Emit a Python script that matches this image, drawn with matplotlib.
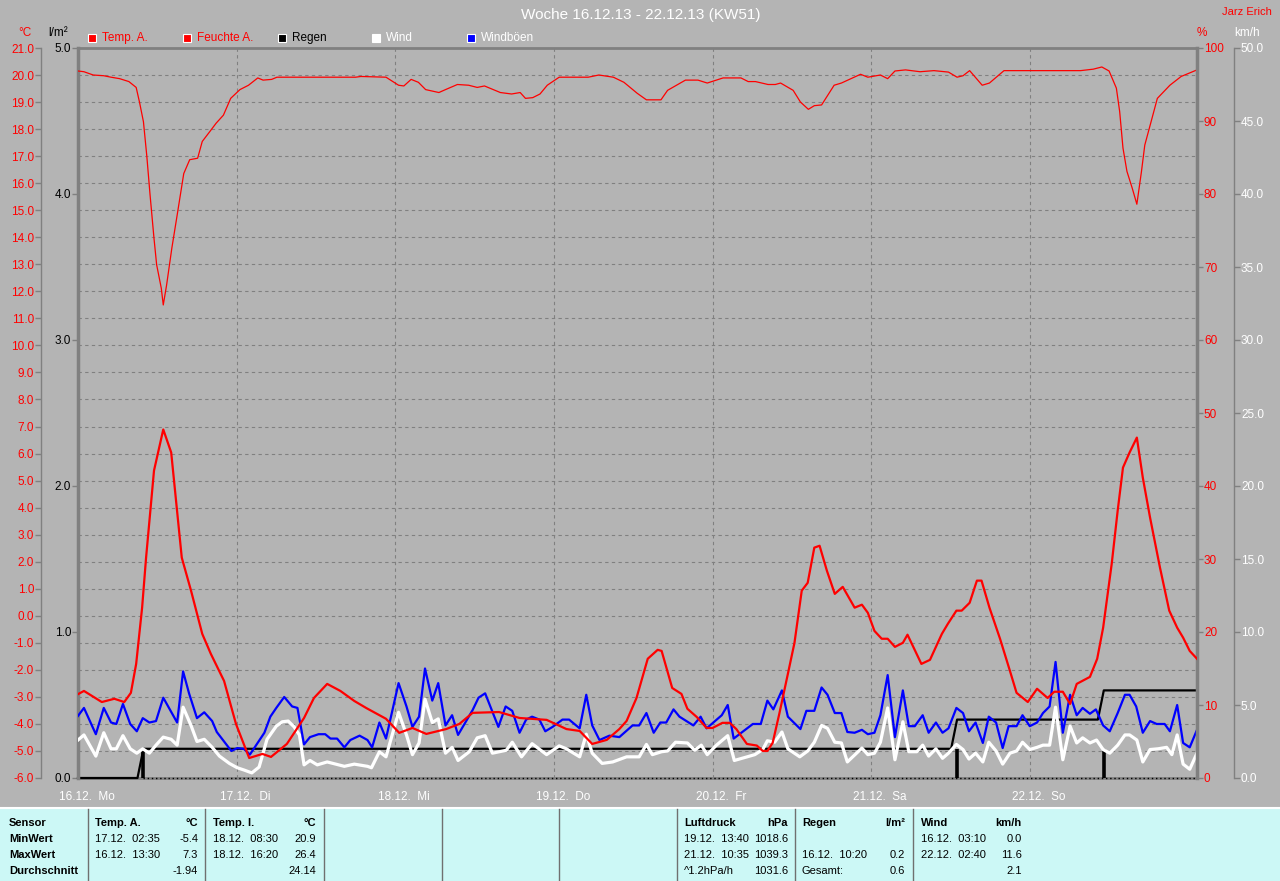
import numpy as np
import matplotlib
matplotlib.use('Agg')
import matplotlib.pyplot as plt
from matplotlib.patches import Rectangle
from matplotlib.transforms import ScaledTranslation

plt.rcParams['font.family'] = ['Liberation Sans', 'DejaVu Sans']

# ---- data (hours since 16.12. 00:00) ----
day_labels = ['16.12.  Mo', '17.12.  Di', '18.12.  Mi', '19.12.  Do', '20.12.  Fr', '21.12.  Sa', '22.12.  So']
day_hours = [0, 24, 48, 72, 96, 120, 144]
x_end = 169.3

temp_h = [0, 0.9, 3.6, 5.5, 7.0, 8.0, 8.8, 9.7, 10.3, 11.5,
          12.9, 14.1, 15.7, 17.1, 18.8, 20.1, 22.1, 23.9, 25.9, 27.9,
          29.2, 31.6, 34.2, 35.7, 37.7, 39.7, 41.8, 43.6, 46.6, 48.6,
          50.6, 52.7, 55.7, 57.7, 59.7, 63.7, 66.8, 70.9, 73.9, 75.9,
          77.8, 80.0, 81.9, 83.0, 84.5, 86.2, 87.7, 88.3, 89.9, 91.3,
          92.2, 93.6, 95.1, 96.0, 97.5, 98.6, 99.6, 101.2, 102.7, 103.6,
          104.3, 105.1, 106.1, 107.4, 108.4, 109.5, 110.4, 111.4, 112.2, 113.3,
          114.5, 115.7, 117.5, 118.6, 119.5, 120.5, 121.6, 122.5, 123.6, 124.8,
          125.5, 127.6, 128.9, 130.7, 131.6, 132.9, 133.7, 134.9, 136.0, 136.7,
          137.9, 139.5, 141.0, 142.0, 143.7, 145.1, 146.7, 147.7, 149.0, 150.1,
          151.1, 153.1, 154.2, 155.1, 156.4, 157.3, 158.1, 159.1, 160.2, 161.1,
          162.2, 163.7, 165.1, 166.3, 167.2, 168.2, 169.3]
temp_c = [-2.9, -2.78, -3.19, -3.07, -3.19, -2.85, -1.78, 0.3, 2.15, 5.37,
          6.89, 6.04, 2.15, 0.93, -0.67, -1.41, -2.41, -4.0, -5.26, -5.11,
          -5.22, -4.74, -3.78, -3.04, -2.52, -2.78, -3.15, -3.41, -3.81, -4.33,
          -4.15, -4.37, -4.19, -4.0, -3.59, -3.56, -3.78, -3.85, -4.19, -4.26,
          -4.74, -4.59, -4.19, -3.89, -3.04, -1.59, -1.26, -1.3, -2.67, -2.89,
          -3.44, -3.74, -4.15, -4.15, -3.96, -3.96, -4.19, -4.74, -4.8, -5.0,
          -5.0, -4.7, -3.63, -2.15, -1.0, 0.93, 1.22, 2.52, 2.59, 1.67,
          0.81, 1.07, 0.30, 0.41, 0.11, -0.56, -0.85, -0.85, -1.15, -1.0,
          -0.70, -1.78, -1.63, -0.67, -0.30, 0.19, 0.19, 0.48, 1.30, 1.30,
          0.30, -0.85, -2.04, -2.85, -3.19, -2.7, -3.04, -2.81, -2.81, -3.26,
          -2.52, -2.26, -1.59, -0.44, 1.93, 3.89, 5.48, 6.04, 6.59, 5.11,
          3.63, 1.78, 0.19, -0.44, -0.81, -1.30, -1.59]

hum_h = [0, 0.9, 2.3, 3.9, 5.0, 6.3, 7.7, 8.8, 9.3, 9.9,
         10.4, 10.9, 11.5, 11.9, 12.6, 12.9, 13.4, 14.2, 15.0, 16.0,
         16.9, 18.1, 18.8, 19.9, 20.9, 22.0, 23.1, 24.5, 25.8, 27.2,
         28.0, 29.3, 30.1, 42.0, 42.8, 46.6, 48.5, 49.3, 50.4, 51.5,
         52.6, 54.6, 55.6, 57.4, 59.1, 60.4, 61.5, 63.9, 65.6, 66.9,
         67.7, 68.8, 69.9, 71.0, 72.8, 77.2, 78.8, 81.0, 82.6, 84.6,
         86.0, 88.2, 89.2, 91.9, 93.8, 95.2, 97.6, 100.3, 101.4, 102.5,
         104.4, 105.5, 106.3, 108.2, 109.3, 110.5, 111.4, 112.5, 114.4, 115.5,
         118.4, 119.5, 121.4, 122.5, 123.6, 125.2, 127.4, 129.5, 131.7, 133.0,
         133.9, 134.9, 136.8, 137.9, 140.1, 151.7, 153.6, 154.9, 156.0, 157.1,
         157.6, 158.1, 158.7, 159.5, 160.2, 160.9, 161.4, 162.5, 163.3, 165.2,
         166.9, 169.3]
hum_pct = [96.85, 96.75, 96.3, 96.2, 96.0, 95.8, 95.4, 94.6, 92.6, 89.9,
           85.3, 79.9, 73.9, 70.3, 67.1, 64.8, 67.5, 72.6, 77.1, 82.8,
           84.7, 84.9, 87.2, 88.5, 89.7, 90.8, 93.1, 94.3, 94.9, 95.9,
           95.6, 95.7, 96.0, 96.0, 96.1, 96.0, 94.9, 94.8, 95.7, 95.3,
           94.3, 93.9, 94.3, 95.0, 94.9, 94.6, 94.8, 93.9, 93.7, 93.9,
           93.1, 93.2, 93.7, 94.9, 96.0, 96.0, 96.3, 96.0, 95.3, 93.8,
           92.9, 92.9, 94.2, 95.6, 95.6, 95.2, 95.9, 95.9, 95.4, 95.4,
           95.0, 95.0, 95.2, 94.2, 92.6, 91.6, 92.1, 92.2, 94.9, 95.2,
           96.4, 96.0, 96.3, 95.8, 96.85, 97.0, 96.75, 96.9, 96.7, 96.0,
           96.2, 96.9, 94.9, 95.2, 96.9, 96.9, 97.1, 97.4, 96.85, 94.5,
           91.3, 86.3, 83.1, 80.8, 78.6, 83.1, 86.7, 90.4, 93.1, 94.9,
           96.1, 97.0]

wind_h = [0, 0.9, 2.7, 3.9, 5.0, 5.8, 6.8, 7.9, 8.9, 9.8,
          10.8, 11.8, 12.9, 14.1, 15.0, 15.9, 17.1, 18.0, 19.1, 20.3,
          21.4, 22.9, 24.1, 25.1, 26.3, 27.4, 28.6, 30.0, 30.9, 31.8,
          32.7, 33.5, 34.2, 35.1, 36.2, 37.7, 40.3, 41.8, 43.8, 44.4,
          45.6, 46.6, 48.5, 49.7, 50.6, 51.6, 52.5, 53.6, 54.5, 55.6,
          56.6, 57.5, 59.2, 60.4, 61.6, 62.7, 64.8, 65.7, 67.1, 68.7,
          70.9, 72.8, 73.9, 75.9, 76.9, 77.8, 79.3, 80.9, 83.0, 84.9,
          86.0, 86.9, 88.3, 89.2, 90.4, 92.2, 93.3, 94.3, 95.2, 96.6,
          98.3, 99.3, 102.4, 103.6, 104.3, 105.4, 106.5, 107.4, 109.2, 110.4,
          111.4, 112.5, 113.4, 114.5, 115.5, 116.4, 118.6, 119.5, 120.5, 121.4,
          122.5, 123.6, 124.8, 125.7, 126.9, 127.8, 128.7, 129.8, 130.8, 131.7,
          132.9, 133.9, 134.8, 135.8, 136.9, 137.8, 138.9, 139.9, 141.0, 142.0,
          142.9, 144.0, 145.1, 146.0, 147.0, 147.9, 149.0, 150.1, 151.1, 152.0,
          153.1, 154.1, 155.1, 156.1, 157.3, 158.4, 159.1, 160.2, 161.1, 162.2,
          163.4, 164.7, 165.5, 166.3, 167.2, 168.2, 169.3]
wind_kmh = [2.6, 2.95, 1.5, 3.1, 2.0, 2.0, 2.9, 2.0, 1.7, 2.0,
            1.7, 2.25, 2.8, 2.65, 2.25, 4.85, 3.6, 2.5, 2.65, 2.1,
            1.5, 1.0, 0.7, 0.55, 0.35, 0.75, 2.65, 3.55, 3.85, 3.9,
            3.5, 2.95, 0.9, 1.2, 0.9, 1.1, 0.8, 0.95, 0.8, 0.7,
            1.8, 1.45, 4.5, 2.95, 1.6, 2.4, 5.4, 3.8, 4.05, 1.7,
            2.1, 1.2, 1.8, 2.75, 2.9, 1.7, 1.9, 2.45, 1.45, 2.35,
            1.6, 2.2, 2.0, 1.45, 3.0, 1.7, 1.0, 1.1, 1.45, 1.45,
            2.3, 1.6, 1.8, 1.85, 2.45, 2.4, 1.9, 2.25, 1.6, 2.25,
            2.9, 1.2, 1.6, 1.95, 2.55, 2.45, 3.15, 2.0, 1.45, 1.85,
            2.45, 3.6, 3.4, 2.45, 2.4, 1.1, 2.05, 1.6, 1.7, 2.45,
            4.8, 1.25, 3.85, 1.8, 1.8, 2.25, 1.5, 2.0, 1.35, 1.7,
            2.3, 1.95, 1.3, 1.7, 1.1, 2.45, 1.85, 0.95, 1.7, 1.85,
            2.45, 1.95, 2.1, 2.25, 2.25, 4.85, 1.25, 3.55, 2.4, 2.75,
            2.4, 2.6, 1.95, 1.7, 2.25, 2.95, 2.95, 2.6, 1.1, 1.95,
            2.0, 2.1, 1.6, 2.95, 0.95, 0.6, 1.7]

gust_h = [0, 0.9, 2.7, 3.9, 5.0, 5.8, 6.8, 7.9, 8.9, 9.8,
          10.8, 11.8, 12.9, 15.0, 15.9, 16.8, 18.0, 19.1, 20.3, 21.0,
          23.2, 24.1, 25.1, 26.0, 28.2, 29.1, 30.0, 31.2, 32.4, 33.2,
          34.2, 35.1, 36.4, 37.4, 38.2, 39.2, 40.3, 41.2, 42.6, 43.8,
          44.5, 45.6, 46.6, 48.5, 49.7, 50.6, 51.6, 52.5, 53.6, 54.5,
          55.6, 56.6, 57.5, 59.7, 60.6, 61.6, 63.6, 64.7, 65.7, 66.8,
          67.8, 68.7, 69.8, 70.7, 71.8, 73.3, 74.3, 75.9, 76.9, 77.8,
          78.9, 80.4, 81.9, 83.9, 84.9, 86.0, 87.1, 88.1, 89.0, 90.1,
          91.0, 93.1, 94.2, 95.1, 97.4, 98.3, 99.2, 102.1, 103.3, 104.3,
          105.2, 106.5, 107.4, 109.3, 110.2, 111.4, 112.5, 113.4, 114.5, 115.5,
          116.4, 117.5, 118.6, 119.5, 120.5, 121.4, 122.5, 123.6, 124.8, 125.7,
          126.6, 127.8, 128.7, 129.8, 130.8, 131.7, 132.9, 133.9, 134.8, 135.8,
          136.9, 137.8, 138.9, 139.9, 140.8, 142.0, 142.9, 144.0, 145.1, 146.0,
          147.0, 147.9, 149.0, 150.1, 151.1, 152.0, 153.1, 154.0, 155.1, 156.1,
          157.3, 158.4, 159.1, 160.1, 161.1, 162.2, 163.2, 164.4, 165.2, 166.3,
          167.2, 168.2, 169.3]
gust_kmh = [4.25, 4.8, 3.0, 4.8, 3.8, 3.7, 5.07, 3.7, 3.2, 4.1,
            3.8, 3.9, 5.5, 3.8, 7.3, 5.8, 4.1, 4.5, 3.9, 3.15,
            1.85, 2.05, 2.0, 1.6, 3.1, 4.2, 4.8, 5.55, 4.9, 4.8,
            2.3, 2.8, 3.0, 3.0, 2.7, 2.7, 2.1, 2.6, 2.9, 2.6,
            2.1, 3.8, 2.7, 6.5, 4.9, 3.5, 4.2, 7.5, 5.3, 6.5,
            3.6, 4.3, 2.95, 4.65, 5.5, 5.8, 3.5, 4.9, 4.6, 3.1,
            4.0, 4.2, 4.0, 3.2, 3.5, 4.0, 4.0, 3.4, 5.7, 3.6,
            2.6, 2.9, 2.8, 3.6, 3.6, 4.45, 3.1, 3.8, 3.8, 4.7,
            4.2, 3.6, 4.2, 3.4, 4.3, 5.0, 2.7, 3.7, 3.7, 5.3,
            4.7, 6.0, 4.2, 3.35, 4.6, 4.6, 6.2, 5.7, 4.45, 4.45,
            3.15, 3.1, 3.3, 3.0, 3.1, 4.3, 7.05, 2.8, 6.0, 3.55,
            3.55, 4.3, 3.1, 3.8, 3.1, 3.4, 4.8, 4.45, 3.2, 3.8,
            2.4, 4.2, 3.8, 2.05, 3.55, 3.55, 4.3, 3.55, 3.8, 4.45,
            4.9, 7.95, 3.1, 5.7, 4.3, 4.8, 4.4, 4.7, 3.6, 3.2,
            4.45, 5.7, 5.7, 4.9, 3.1, 3.9, 3.7, 3.7, 3.2, 5.0,
            2.4, 2.1, 3.3]

rain_h = [9.9, 133.0, 155.2]
rain_mm = [0.2, 0.2, 0.2]

legend_labels = ['Temp. A.', 'Feuchte A.', 'Regen', 'Wind', 'Windböen']
legend_colors = ['#ff0000', '#ff0000', '#000000', '#ffffff', '#0000ff']
legend_text_colors = ['#ff0000', '#ff0000', '#000000', '#ffffff', '#ffffff']

row_labels = ['Sensor', 'MinWert', 'MaxWert', 'Durchschnitt']
table_cols = [
    ('Temp. A.', '°C', [('17.12.  02:35', '-5.4'), ('16.12.  13:30', '7.3'), ('', '-1.94')]),
    ('Temp. I.', '°C', [('18.12.  08:30', '20.9'), ('18.12.  16:20', '26.4'), ('', '24.14')]),
    ('Luftdruck', 'hPa', [('19.12.  13:40', '1018.6'), ('21.12.  10:35', '1039.3'), ('^1.2hPa/h', '1031.6')]),
    ('Regen', 'l/m²', [('', ''), ('16.12.  10:20', '0.2'), ('Gesamt:', '0.6')]),
    ('Wind', 'km/h', [('16.12.  03:10', '0.0'), ('22.12.  02:40', '11.6'), ('', '2.1')]),
]
col_x = [(95, 198), (213, 316), (684, 788), (802, 905), (921, 1022)]
col_lines = [88, 205, 324, 442, 559, 677, 795, 913]

# ---- figure ----
W, H = 1280, 881
BG = '#b4b4b4'
GR = '#808080'
fig = plt.figure(figsize=(W / 100, H / 100), dpi=100, facecolor=BG)


def px(x, y):
    return x / W, 1 - y / H


pos = [78 / W, 1 - 778 / H, (1197 - 78) / W, (778 - 48) / H]
ax_t = fig.add_axes(pos)
ax_t.set_facecolor(BG)
ax_r = ax_t.twinx()
ax_w = ax_t.twinx()
ax_h = ax_t.twinx()
ax_tl = ax_t.twinx()

for a in (ax_t, ax_r, ax_w, ax_h, ax_tl):
    for s in a.spines.values():
        s.set_visible(False)
    a.set_xlim(0, x_end)

# temperature scale (base, with grid)
ax_t.set_ylim(-6, 21)
ax_t.set_yticks(np.arange(-6, 22, 1))
ax_t.set_yticklabels([f'{v:.1f}' for v in np.arange(-6, 22, 1)])
ax_t.spines['left'].set_visible(True)
ax_t.spines['left'].set_position(('axes', -37 / 1119))
ax_t.spines['left'].set_color(GR)
ax_t.spines['left'].set_linewidth(1)
for s in ('top', 'bottom'):
    ax_t.spines[s].set_visible(True)
    ax_t.spines[s].set_color(GR)
    ax_t.spines[s].set_linewidth(2)
ax_t.tick_params(axis='y', color=GR, labelcolor='#ff0000', length=4, width=1, labelsize=8.5, pad=1)
ax_t.set_xticks(day_hours)
ax_t.set_xticklabels(day_labels, color='white', fontsize=8.5)
ax_t.tick_params(axis='x', length=0, pad=9)
off = ScaledTranslation(9 / 100, 0, fig.dpi_scale_trans)
for lab in ax_t.get_xticklabels():
    lab.set_transform(lab.get_transform() + off)
ax_t.grid(True, color=GR, linestyle=(0, (3, 3)), linewidth=0.8)

# rain scale (left, at plot edge)
ax_r.set_ylim(0, 5)
ax_r.yaxis.tick_left()
ax_r.set_yticks(np.arange(0, 6, 1))
ax_r.set_yticklabels([f'{v:.1f}' for v in np.arange(0, 6, 1)])
ax_r.spines['left'].set_visible(True)
ax_r.spines['left'].set_color(GR)
ax_r.spines['left'].set_linewidth(2.5)
ax_r.tick_params(axis='y', color=GR, labelcolor='black', length=4, width=1, labelsize=8.5, pad=1)

rain_total = np.cumsum(rain_mm)
rx, ry, prev = [0], [0], 0
for t, tot in zip(rain_h, rain_total):
    rx += [t - 0.9, t]
    ry += [prev, tot]
    prev = tot
rx.append(x_end)
ry.append(prev)
ax_r.plot([rain_h[0], x_end], [0, 0], color='black', lw=1, ls=(0, (1, 2)), clip_on=False)
ax_r.plot(rx, ry, color='black', lw=1.6, clip_on=False)
ax_r.vlines(rain_h, 0, rain_mm, color='black', lw=2.6)

# wind scale (outer right)
ax_w.set_ylim(0, 50)
ax_w.set_yticks(np.arange(0, 51, 5))
ax_w.set_yticklabels([f'{v:.1f}' for v in np.arange(0, 51, 5)])
ax_w.spines['right'].set_visible(True)
ax_w.spines['right'].set_position(('axes', 1 + 37 / 1119))
ax_w.spines['right'].set_color(GR)
ax_w.spines['right'].set_linewidth(1)
ax_w.tick_params(axis='y', color=GR, labelcolor='white', length=4, width=1, labelsize=8.5, pad=1)
ax_w.plot(wind_h, wind_kmh, color='white', lw=2.3)
ax_w.plot(gust_h, gust_kmh, color='#0000ff', lw=1.6)

# humidity scale (right, at plot edge)
ax_h.set_ylim(0, 100)
ax_h.set_yticks(np.arange(0, 101, 10))
ax_h.spines['right'].set_visible(True)
ax_h.spines['right'].set_color(GR)
ax_h.spines['right'].set_linewidth(2.5)
ax_h.tick_params(axis='y', color=GR, labelcolor='#ff0000', length=4, width=1, labelsize=8.5, pad=1)
ax_h.plot(hum_h, hum_pct, color='#ff0000', lw=0.9)

# temperature line on top
ax_tl.set_ylim(-6, 21)
ax_tl.set_yticks([])
ax_tl.plot(temp_h, temp_c, color='#ff0000', lw=1.6)

# ---- header texts ----
fig.text(*px(641, 15), 'Woche 16.12.13 - 22.12.13 (KW51)', color='white', fontsize=11, ha='center', va='center')
fig.text(*px(1272, 12), 'Jarz Erich', color='#ff0000', fontsize=8, ha='right', va='center')
fig.text(*px(25, 33), '°C', color='#ff0000', fontsize=8.5, ha='center', va='center')
fig.text(*px(58, 33), 'l/m²', color='black', fontsize=8.5, ha='center', va='center')
fig.text(*px(1202, 33), '%', color='#ff0000', fontsize=8.5, ha='center', va='center')
fig.text(*px(1247, 33), 'km/h', color='white', fontsize=8.5, ha='center', va='center')

for i, (lab, c, tc) in enumerate(zip(legend_labels, legend_colors, legend_text_colors)):
    x0 = 88 + i * 94.8
    fig.add_artist(Rectangle(px(x0, 42), 8 / W, 8 / H, transform=fig.transFigure,
                             facecolor=c, edgecolor='white', lw=0.8))
    fig.text(*px(x0 + 14, 38), lab, color=tc, fontsize=8.5, ha='left', va='center')

# ---- bottom table ----
fig.add_artist(Rectangle((0, 0), 1, 72 / H, transform=fig.transFigure, facecolor='#ccf8f6', edgecolor='none'))
fig.add_artist(plt.Line2D([0, 1], [73 / H, 73 / H], transform=fig.transFigure, color='white', lw=1.5))
for xl in col_lines:
    fig.add_artist(plt.Line2D([xl / W, xl / W], [0, 72 / H], transform=fig.transFigure, color='#707070', lw=1))

row_y = [823, 839, 855, 871]
for lab, y in zip(row_labels, row_y):
    fig.text(*px(9, y), lab, fontsize=8, fontweight='bold', ha='left', va='center')
for (name, unit, rows), (xl, xr) in zip(table_cols, col_x):
    fig.text(*px(xl, row_y[0]), name, fontsize=8, fontweight='bold', ha='left', va='center')
    fig.text(*px(xr, row_y[0]), unit, fontsize=8, fontweight='bold', ha='right', va='center')
    for (lt, rt), y in zip(rows, row_y[1:]):
        fig.text(*px(xl, y), lt, fontsize=8, ha='left', va='center')
        fig.text(*px(xr, y), rt, fontsize=8, ha='right', va='center')

fig.savefig('out.png', dpi=100, facecolor=BG)
